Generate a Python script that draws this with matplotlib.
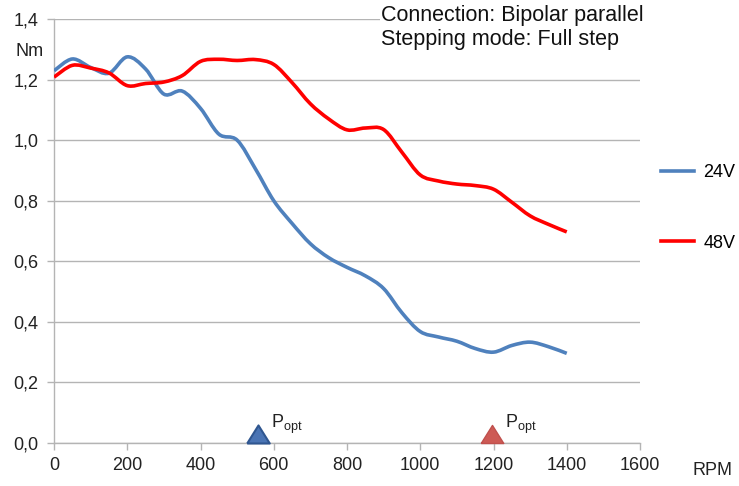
import matplotlib
matplotlib.use("Agg")
import matplotlib.pyplot as plt
from matplotlib.path import Path
from matplotlib.patches import PathPatch
from matplotlib.lines import Line2D

plt.rcParams['font.family'] = ['Liberation Sans', 'DejaVu Sans']
plt.rcParams['mathtext.fontset'] = 'custom'
plt.rcParams['mathtext.rm'] = 'Liberation Sans'
plt.rcParams['mathtext.it'] = 'Liberation Sans'

rpm = [0, 50, 100, 150, 200, 250, 300, 350, 400, 450, 500, 550, 600, 650, 700,
       750, 800, 850, 900, 950, 1000, 1050, 1100, 1150, 1200, 1250, 1300, 1350, 1400]
torque_24v = [1.229, 1.268, 1.240, 1.221, 1.275, 1.235, 1.152, 1.162, 1.105, 1.020,
              1.000, 0.905, 0.800, 0.725, 0.658, 0.612, 0.580, 0.552, 0.510, 0.430,
              0.368, 0.350, 0.336, 0.312, 0.300, 0.322, 0.333, 0.318, 0.296]
torque_48v = [1.208, 1.247, 1.238, 1.222, 1.180, 1.187, 1.192, 1.213, 1.260, 1.267,
              1.263, 1.266, 1.250, 1.190, 1.120, 1.070, 1.034, 1.040, 1.035, 0.960,
              0.885, 0.865, 0.855, 0.850, 0.838, 0.795, 0.750, 0.722, 0.697]
series_labels = ['24V', '48V']
popt_rpm = [557, 1196]
x_ticks = [0, 200, 400, 600, 800, 1000, 1200, 1400, 1600]
y_ticks = [0.0, 0.2, 0.4, 0.6, 0.8, 1.0, 1.2, 1.4]
y_tick_labels = ['0,0', '0,2', '0,4', '0,6', '0,8', '1,0', '1,2', '1,4']

BLUE = '#4f81bd'
RED = '#ff0000'
GRID = '#b4b4b4'
FS = 13
LW = 2.6


def smooth_path(xs, ys):
    """Excel-style smoothed line: cubic Bezier segments through the data points."""
    pts = list(zip(xs, ys))
    n = len(pts)
    verts = [pts[0]]
    codes = [Path.MOVETO]
    for i in range(n - 1):
        p0 = pts[i - 1] if i > 0 else pts[i]
        p1 = pts[i]
        p2 = pts[i + 1]
        p3 = pts[i + 2] if i + 2 < n else pts[i + 1]
        c1 = (p1[0] + (p2[0] - p0[0]) / 6, p1[1] + (p2[1] - p0[1]) / 6)
        c2 = (p2[0] - (p3[0] - p1[0]) / 6, p2[1] - (p3[1] - p1[1]) / 6)
        verts += [c1, c2, p2]
        codes += [Path.CURVE4] * 3
    return Path(verts, codes)


fig = plt.figure(figsize=(7.39, 4.86), dpi=100)
ax = fig.add_axes([54/739, 43/486, (640-54)/739, (443-19)/486])

for ys, col in [(torque_24v, BLUE), (torque_48v, RED)]:
    ax.add_patch(PathPatch(smooth_path(rpm, ys), facecolor='none', edgecolor=col,
                           lw=LW, joinstyle='round', capstyle='butt', zorder=3))

ax.set_xlim(0, 1600)
ax.set_ylim(0, 1.4)
ax.set_xticks(x_ticks)
ax.set_yticks(y_ticks)
ax.set_yticklabels(y_tick_labels)
ax.tick_params(axis='both', labelsize=FS, color=GRID, length=5, width=1,
               labelcolor='#222222')
ax.tick_params(axis='y', pad=6)
ax.tick_params(axis='x', pad=5)
for s in ['top', 'right']:
    ax.spines[s].set_visible(False)
for s in ['left', 'bottom']:
    ax.spines[s].set_color(GRID)
    ax.spines[s].set_linewidth(1)
ax.yaxis.grid(True, color=GRID, lw=1)
ax.set_axisbelow(True)

# Popt markers
tri = [(-1, 0), (1, 0), (0, 1.6), (-1, 0)]
ax.plot([popt_rpm[0]], [0], marker=tri, markersize=26, color='#4a74b4',
        markeredgecolor='#2f5690', markeredgewidth=1.5, clip_on=False, zorder=4,
        linestyle='none')
ax.plot([popt_rpm[1]], [0], marker=tri, markersize=26, color='#cd5a55',
        markeredgecolor='#c0504d', markeredgewidth=1.0, clip_on=False, zorder=4,
        linestyle='none')
for xr in popt_rpm:
    ax.annotate(r'P$_{\mathrm{opt}}$', xy=(xr, 0), xytext=(9, 5),
                textcoords='offset points', fontsize=FS, color='#222222',
                ha='left', va='bottom')

handles = [Line2D([], [], color=BLUE, lw=LW), Line2D([], [], color=RED, lw=LW)]
leg = ax.legend(handles, series_labels, loc='center left',
                bbox_to_anchor=(661/739, 1 - 208/486),
                bbox_transform=fig.transFigure, frameon=False, fontsize=FS,
                borderpad=0, borderaxespad=0,
                handlelength=1.8, handletextpad=0.55, labelspacing=2.95)

fig.text(30/739, 1 - 52/486, 'Nm', fontsize=FS, ha='center', va='center', color='#222222')
fig.text(712/739, 1 - 470/486, 'RPM', fontsize=FS, ha='center', va='center', color='#222222')

fig.text(381/739, 1 - 16/486, 'Connection: Bipolar parallel', fontsize=15.5,
         ha='left', va='center', color='#111111',
         bbox=dict(facecolor='white', edgecolor='none', pad=1))
fig.text(381/739, 1 - 40/486, 'Stepping mode: Full step', fontsize=15.5,
         ha='left', va='center', color='#111111')

fig.savefig('out.png', dpi=100)
